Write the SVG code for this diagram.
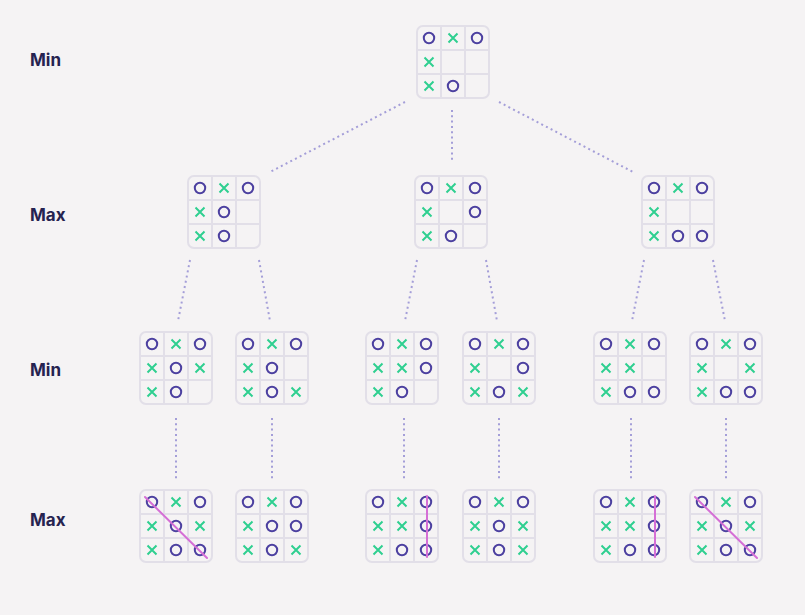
<svg xmlns="http://www.w3.org/2000/svg" xmlns:xlink="http://www.w3.org/1999/xlink" width="805" height="615" viewBox="0 0 805 615">
<style>
.lbl{font-family:Inter,"Liberation Sans",sans-serif;font-weight:700;font-size:17px;fill:#262350}
.grid{fill:none;stroke:#e2dfe8;stroke-width:2}
.o{fill:none;stroke:#4c40a0;stroke-width:2}
.x{stroke:#2fcf90;stroke-width:2;stroke-linecap:butt}
.con{stroke:#a49ed8;stroke-width:2;stroke-dasharray:2 3.3;fill:none}
.win{stroke:#d56fd6;stroke-width:2;stroke-linecap:round}
</style>
<defs>
<g id="grid">
<rect class="grid" x="0" y="0" width="72" height="72" rx="6"/>
<path class="grid" d="M24 0V72M48 0V72M0 24H72M0 48H72"/>
</g>
<circle id="o" class="o" r="5.2" cx="0" cy="0"/>
<path id="x" class="x" d="M-4.5 -4.5L4.5 4.5M4.5 -4.5L-4.5 4.5"/>
</defs>
<rect width="805" height="615" fill="#f5f3f4"/>
<g id="labels">
<text class="lbl" x="30" y="66">Min</text>
<text class="lbl" x="30" y="221">Max</text>
<text class="lbl" x="30" y="376">Min</text>
<text class="lbl" x="30" y="526">Max</text>
</g>
<g id="connectors">
<path class="con" d="M405 102L270 172"/>
<path class="con" d="M452 110L452 162"/>
<path class="con" d="M499 102L633 172"/>
<path class="con" d="M190 260L178 321"/>
<path class="con" d="M259 260L270 321"/>
<path class="con" d="M417 260L405 321"/>
<path class="con" d="M486 260L497 321"/>
<path class="con" d="M644 260L632 321"/>
<path class="con" d="M713 260L725 321"/>
<path class="con" d="M176 418L176 480"/>
<path class="con" d="M272 418L272 480"/>
<path class="con" d="M404 418L404 480"/>
<path class="con" d="M499 418L499 480"/>
<path class="con" d="M631 418L631 480"/>
<path class="con" d="M726 418L726 480"/>
</g>
<g id="b0" transform="translate(417 26)">
<use xlink:href="#grid"/>
<use xlink:href="#o" x="12" y="12"/><use xlink:href="#x" x="36" y="12"/><use xlink:href="#o" x="60" y="12"/>
<use xlink:href="#x" x="12" y="36"/>
<use xlink:href="#x" x="12" y="60"/><use xlink:href="#o" x="36" y="60"/>
</g>
<g id="b1a" transform="translate(188 176)">
<use xlink:href="#grid"/>
<use xlink:href="#o" x="12" y="12"/><use xlink:href="#x" x="36" y="12"/><use xlink:href="#o" x="60" y="12"/>
<use xlink:href="#x" x="12" y="36"/><use xlink:href="#o" x="36" y="36"/>
<use xlink:href="#x" x="12" y="60"/><use xlink:href="#o" x="36" y="60"/>
</g>
<g id="b1b" transform="translate(415 176)">
<use xlink:href="#grid"/>
<use xlink:href="#o" x="12" y="12"/><use xlink:href="#x" x="36" y="12"/><use xlink:href="#o" x="60" y="12"/>
<use xlink:href="#x" x="12" y="36"/><use xlink:href="#o" x="60" y="36"/>
<use xlink:href="#x" x="12" y="60"/><use xlink:href="#o" x="36" y="60"/>
</g>
<g id="b1c" transform="translate(642 176)">
<use xlink:href="#grid"/>
<use xlink:href="#o" x="12" y="12"/><use xlink:href="#x" x="36" y="12"/><use xlink:href="#o" x="60" y="12"/>
<use xlink:href="#x" x="12" y="36"/>
<use xlink:href="#x" x="12" y="60"/><use xlink:href="#o" x="36" y="60"/><use xlink:href="#o" x="60" y="60"/>
</g>
<g id="b2a" transform="translate(140 332)">
<use xlink:href="#grid"/>
<use xlink:href="#o" x="12" y="12"/><use xlink:href="#x" x="36" y="12"/><use xlink:href="#o" x="60" y="12"/>
<use xlink:href="#x" x="12" y="36"/><use xlink:href="#o" x="36" y="36"/><use xlink:href="#x" x="60" y="36"/>
<use xlink:href="#x" x="12" y="60"/><use xlink:href="#o" x="36" y="60"/>
</g>
<g id="b2b" transform="translate(236 332)">
<use xlink:href="#grid"/>
<use xlink:href="#o" x="12" y="12"/><use xlink:href="#x" x="36" y="12"/><use xlink:href="#o" x="60" y="12"/>
<use xlink:href="#x" x="12" y="36"/><use xlink:href="#o" x="36" y="36"/>
<use xlink:href="#x" x="12" y="60"/><use xlink:href="#o" x="36" y="60"/><use xlink:href="#x" x="60" y="60"/>
</g>
<g id="b2c" transform="translate(366 332)">
<use xlink:href="#grid"/>
<use xlink:href="#o" x="12" y="12"/><use xlink:href="#x" x="36" y="12"/><use xlink:href="#o" x="60" y="12"/>
<use xlink:href="#x" x="12" y="36"/><use xlink:href="#x" x="36" y="36"/><use xlink:href="#o" x="60" y="36"/>
<use xlink:href="#x" x="12" y="60"/><use xlink:href="#o" x="36" y="60"/>
</g>
<g id="b2d" transform="translate(463 332)">
<use xlink:href="#grid"/>
<use xlink:href="#o" x="12" y="12"/><use xlink:href="#x" x="36" y="12"/><use xlink:href="#o" x="60" y="12"/>
<use xlink:href="#x" x="12" y="36"/><use xlink:href="#o" x="60" y="36"/>
<use xlink:href="#x" x="12" y="60"/><use xlink:href="#o" x="36" y="60"/><use xlink:href="#x" x="60" y="60"/>
</g>
<g id="b2e" transform="translate(594 332)">
<use xlink:href="#grid"/>
<use xlink:href="#o" x="12" y="12"/><use xlink:href="#x" x="36" y="12"/><use xlink:href="#o" x="60" y="12"/>
<use xlink:href="#x" x="12" y="36"/><use xlink:href="#x" x="36" y="36"/>
<use xlink:href="#x" x="12" y="60"/><use xlink:href="#o" x="36" y="60"/><use xlink:href="#o" x="60" y="60"/>
</g>
<g id="b2f" transform="translate(690 332)">
<use xlink:href="#grid"/>
<use xlink:href="#o" x="12" y="12"/><use xlink:href="#x" x="36" y="12"/><use xlink:href="#o" x="60" y="12"/>
<use xlink:href="#x" x="12" y="36"/><use xlink:href="#x" x="60" y="36"/>
<use xlink:href="#x" x="12" y="60"/><use xlink:href="#o" x="36" y="60"/><use xlink:href="#o" x="60" y="60"/>
</g>
<g id="b3a" transform="translate(140 490)">
<use xlink:href="#grid"/>
<use xlink:href="#o" x="12" y="12"/><use xlink:href="#x" x="36" y="12"/><use xlink:href="#o" x="60" y="12"/>
<use xlink:href="#x" x="12" y="36"/><use xlink:href="#o" x="36" y="36"/><use xlink:href="#x" x="60" y="36"/>
<use xlink:href="#x" x="12" y="60"/><use xlink:href="#o" x="36" y="60"/><use xlink:href="#o" x="60" y="60"/>
<line class="win" x1="5" y1="7" x2="67" y2="68"/>
</g>
<g id="b3b" transform="translate(236 490)">
<use xlink:href="#grid"/>
<use xlink:href="#o" x="12" y="12"/><use xlink:href="#x" x="36" y="12"/><use xlink:href="#o" x="60" y="12"/>
<use xlink:href="#x" x="12" y="36"/><use xlink:href="#o" x="36" y="36"/><use xlink:href="#o" x="60" y="36"/>
<use xlink:href="#x" x="12" y="60"/><use xlink:href="#o" x="36" y="60"/><use xlink:href="#x" x="60" y="60"/>
</g>
<g id="b3c" transform="translate(366 490)">
<use xlink:href="#grid"/>
<use xlink:href="#o" x="12" y="12"/><use xlink:href="#x" x="36" y="12"/><use xlink:href="#o" x="60" y="12"/>
<use xlink:href="#x" x="12" y="36"/><use xlink:href="#x" x="36" y="36"/><use xlink:href="#o" x="60" y="36"/>
<use xlink:href="#x" x="12" y="60"/><use xlink:href="#o" x="36" y="60"/><use xlink:href="#o" x="60" y="60"/>
<line class="win" x1="61" y1="6" x2="61" y2="67"/>
</g>
<g id="b3d" transform="translate(463 490)">
<use xlink:href="#grid"/>
<use xlink:href="#o" x="12" y="12"/><use xlink:href="#x" x="36" y="12"/><use xlink:href="#o" x="60" y="12"/>
<use xlink:href="#x" x="12" y="36"/><use xlink:href="#o" x="36" y="36"/><use xlink:href="#x" x="60" y="36"/>
<use xlink:href="#x" x="12" y="60"/><use xlink:href="#o" x="36" y="60"/><use xlink:href="#x" x="60" y="60"/>
</g>
<g id="b3e" transform="translate(594 490)">
<use xlink:href="#grid"/>
<use xlink:href="#o" x="12" y="12"/><use xlink:href="#x" x="36" y="12"/><use xlink:href="#o" x="60" y="12"/>
<use xlink:href="#x" x="12" y="36"/><use xlink:href="#x" x="36" y="36"/><use xlink:href="#o" x="60" y="36"/>
<use xlink:href="#x" x="12" y="60"/><use xlink:href="#o" x="36" y="60"/><use xlink:href="#o" x="60" y="60"/>
<line class="win" x1="61" y1="6" x2="61" y2="67"/>
</g>
<g id="b3f" transform="translate(690 490)">
<use xlink:href="#grid"/>
<use xlink:href="#o" x="12" y="12"/><use xlink:href="#x" x="36" y="12"/><use xlink:href="#o" x="60" y="12"/>
<use xlink:href="#x" x="12" y="36"/><use xlink:href="#o" x="36" y="36"/><use xlink:href="#x" x="60" y="36"/>
<use xlink:href="#x" x="12" y="60"/><use xlink:href="#o" x="36" y="60"/><use xlink:href="#o" x="60" y="60"/>
<line class="win" x1="5" y1="7" x2="67" y2="68"/>
</g>
</svg>
